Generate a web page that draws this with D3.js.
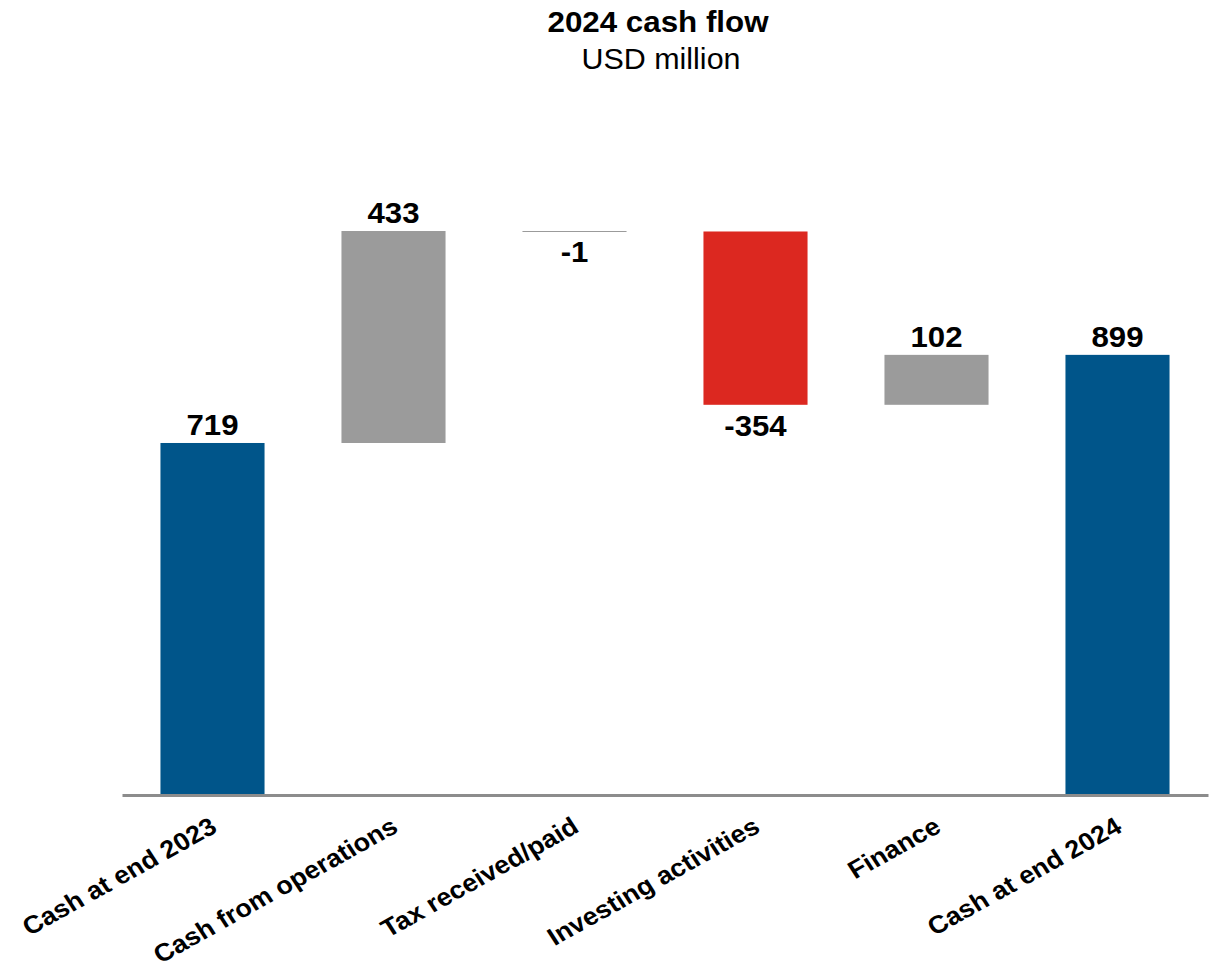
<!DOCTYPE html>
<html>
<head>
<meta charset="utf-8">
<script src="https://cdn.jsdelivr.net/npm/d3@7"></script>
<style>
  html, body { margin: 0; padding: 0; background: #fff; }
  svg { display: block; font-family: Arial, "Liberation Sans", sans-serif; }
</style>
</head>
<body>
<svg id="chart" width="1217" height="971"></svg>
<script>
// 2024 cash flow bridge, USD million
const categories = ["Cash at end 2023", "Cash from operations", "Tax received/paid",
                    "Investing activities", "Finance", "Cash at end 2024"];
const values = [719, 433, -1, -354, 102, 899];
const kinds = ["total", "flow", "flow", "outflow", "flow", "total"];
const valueLabels = ["719", "433", "-1", "-354", "102", "899"];

const colors = { total: "#00558a", flow: "#9b9b9b", outflow: "#dc2820" };

// running totals: each flow starts where the previous one ended
let running = 0;
const bars = categories.map((c, i) => {
  let start, end;
  if (kinds[i] === "total") { start = 0; end = values[i]; running = values[i]; }
  else { start = running; end = running + values[i]; running = end; }
  return { cat: c, value: values[i], kind: kinds[i], label: valueLabels[i], start, end };
});

const svg = d3.select("#chart");

const x = d3.scaleBand()
  .domain(categories)
  .range([122, 1208])
  .paddingInner(0.425)
  .paddingOuter(0.2125);

const y = d3.scaleLinear()
  .domain([0, 1200])
  .range([795, 207.5]);

// title
svg.append("text")
  .attr("transform", "translate(658,32) scale(1.08,1)")
  .attr("text-anchor", "middle")
  .attr("font-size", 29).attr("font-weight", "bold")
  .attr("fill", "#000")
  .text("2024 cash flow");
svg.append("text")
  .attr("transform", "translate(661,69) scale(1.05,1)")
  .attr("text-anchor", "middle")
  .attr("font-size", 29)
  .attr("fill", "#000")
  .text("USD million");

// bars
svg.append("g").selectAll("rect")
  .data(bars)
  .join("rect")
  .attr("x", d => x(d.cat))
  .attr("width", x.bandwidth())
  .attr("y", d => y(Math.max(d.start, d.end)))
  .attr("height", d => Math.max(1, Math.abs(y(d.start) - y(d.end))))
  .attr("fill", d => colors[d.kind]);

// value labels: above for increases/totals, below for decreases
svg.append("g").selectAll("text")
  .data(bars)
  .join("text")
  .attr("transform", d => {
    const cx = x(d.cat) + x.bandwidth() / 2;
    const ty = d.value < 0 ? y(Math.min(d.start, d.end)) + 31 : y(Math.max(d.start, d.end)) - 8;
    return `translate(${cx},${ty}) scale(1.04,1)`;
  })
  .attr("text-anchor", "middle")
  .attr("font-size", 30).attr("font-weight", "bold")
  .attr("fill", "#000")
  .text(d => d.label);

// baseline axis
const axis = svg.append("g")
  .attr("transform", `translate(0,${y(0)})`)
  .call(d3.axisBottom(x).tickSize(0).tickPadding(0));
axis.select(".domain").attr("stroke", "#8c8c8c").attr("stroke-width", 3);
axis.selectAll(".tick text")
  .attr("font-size", 25).attr("font-weight", "bold")
  .attr("fill", "#000")
  .attr("font-family", "Arial, 'Liberation Sans', sans-serif")
  .attr("text-anchor", "end")
  .attr("dy", 0)
  .attr("y", 0)
  .attr("transform", "translate(6,36) scale(1.08,1) rotate(-31)");
</script>
</body>
</html>
